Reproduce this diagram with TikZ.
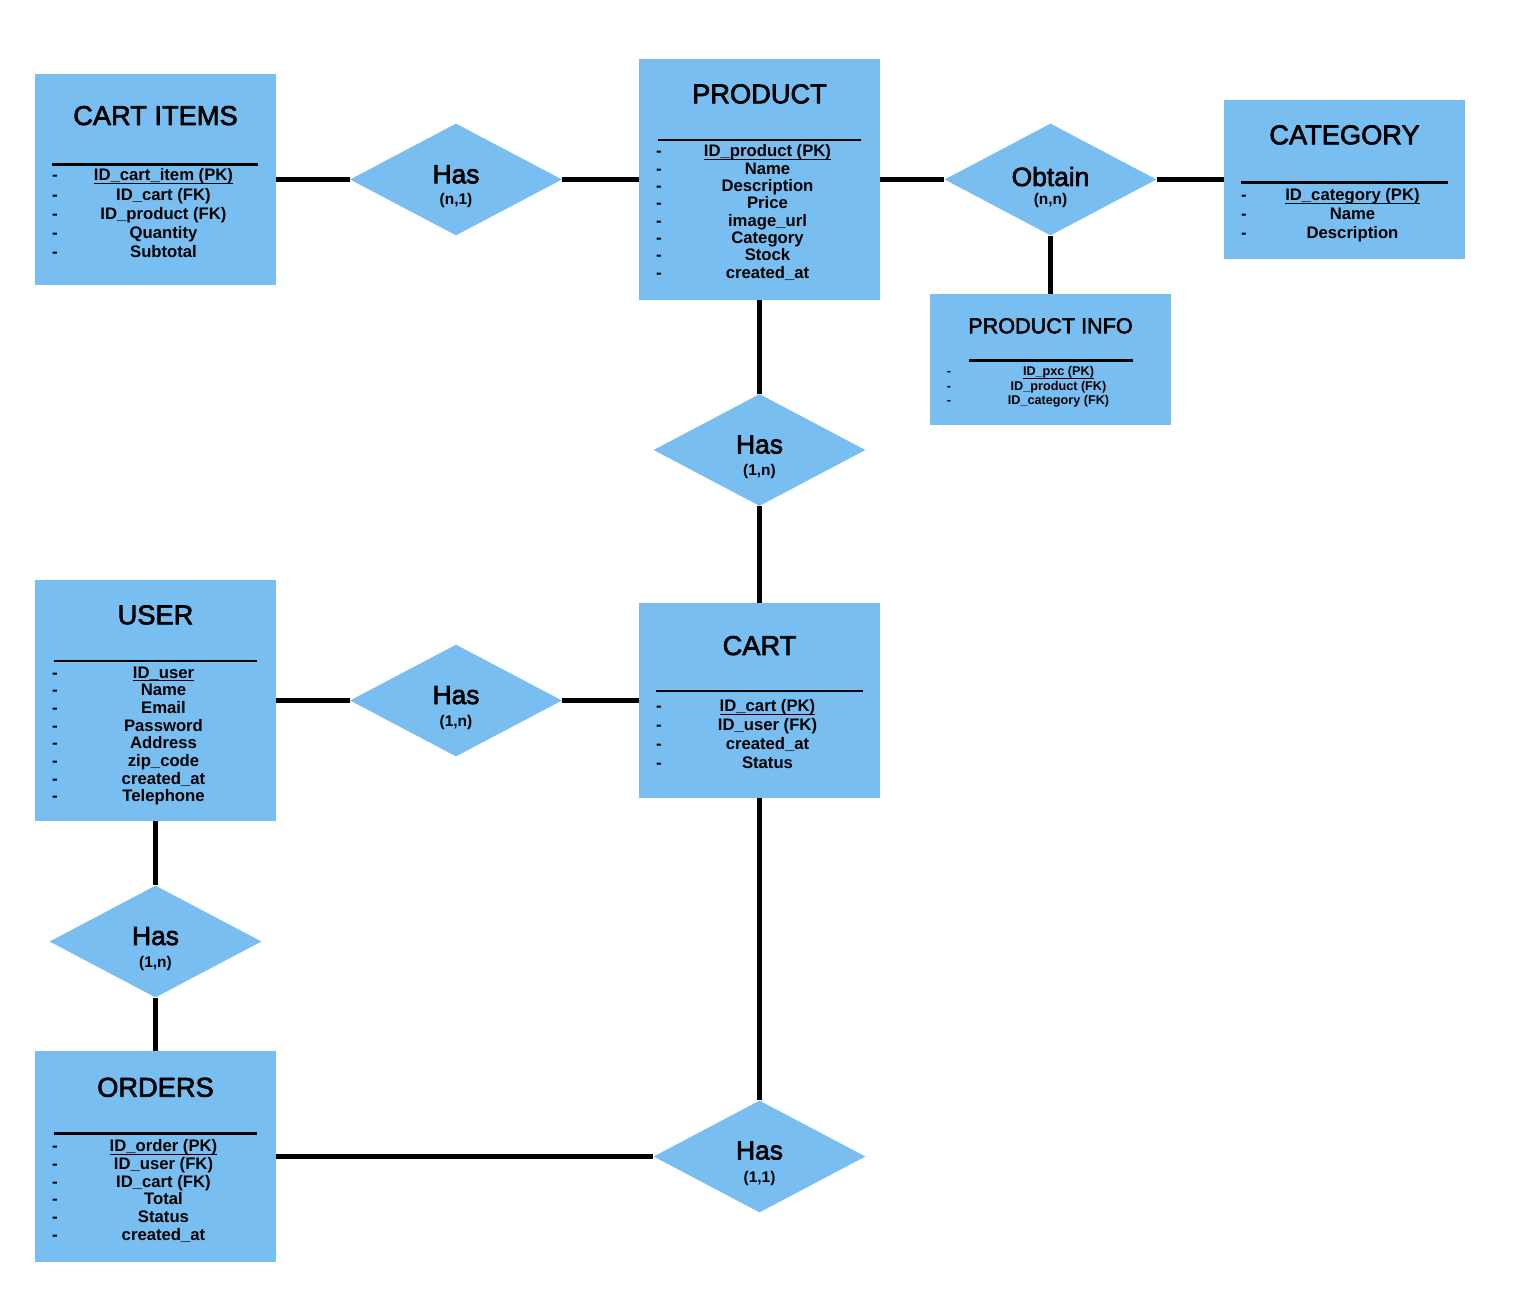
\documentclass[tikz,border=0pt]{standalone}
\usepackage{fontspec}
\setmainfont{Liberation Sans}
\newfontfamily\medfont{Liberation Sans}[FakeBold=2.5]
\usetikzlibrary{shapes.geometric}
\definecolor{erblue}{RGB}{121,190,240}
\newcommand{\pk}[1]{\underline{\smash{#1}}}

\begin{document}
\begin{tikzpicture}[x=0.02cm, y=-0.02cm, line join=round,
	entity/.style={rectangle, fill=erblue, inner sep=0, minimum width=4.82cm},
	rel/.style={diamond, fill=erblue, inner sep=0, minimum width=4.24cm, minimum height=2.24cm},
	enttitle/.style={anchor=base, inner sep=0, font=\fontsize{15.5}{18}\medfont},
	entattr/.style={anchor=base, inner sep=0, font=\fontsize{9.5}{11}\selectfont\bfseries},
	infoattr/.style={anchor=base, inner sep=0, font=\fontsize{7.2}{9}\selectfont\bfseries},
	relname/.style={anchor=base, inner sep=0, font=\fontsize{15}{18}\medfont},
	relcard/.style={anchor=base, inner sep=0, font=\fontsize{8.8}{10}\selectfont\bfseries},
	entsep/.style={line width=1.7pt},
	erlink/.style={line width=2.3pt}]
	\fill[white] (0,0) rectangle (1514,1314);
	\useasboundingbox (0,0) rectangle (1514,1314);
	% entities
	\node[entity, minimum height=4.22cm] (items) at (155.5,179.5) {};
	\node[entity, minimum height=4.82cm] (product) at (759.5,179.5) {};
	\node[entity, minimum height=3.18cm] (category) at (1344.5,179.5) {};
	\node[entity, minimum height=2.62cm] (info) at (1050.5,359.5) {};
	\node[entity, minimum height=4.82cm] (user) at (155.5,700.5) {};
	\node[entity, minimum height=3.90cm] (cart) at (759.5,700.5) {};
	\node[entity, minimum height=4.22cm] (orders) at (155.5,1156.5) {};
	\node[enttitle] (items-t) at (155.5,125) {CART ITEMS};
	\node[enttitle] (product-t) at (759.5,103.3) {PRODUCT};
	\node[enttitle] (category-t) at (1344.5,144.3) {CATEGORY};
	\node[enttitle, font=\fontsize{12.3}{14}\medfont] (info-t) at (1050.5,333.3) {PRODUCT INFO};
	\node[enttitle] (user-t) at (155.5,624.3) {USER};
	\node[enttitle] (cart-t) at (759.5,655) {CART};
	\node[enttitle] (orders-t) at (155.5,1096.7) {ORDERS};
	\draw[entsep] (51.7,164.3)--(258.3,164.3);
	\draw[entsep] (658.3,140)--(861,140);
	\draw[entsep] (1240.7,182.3)--(1447.7,182.3);
	\draw[entsep, line width=1.4pt] (969,360.7)--(1132.7,360.7);
	\draw[entsep] (54,661)--(256.7,661);
	\draw[entsep] (655.7,691)--(862.7,691);
	\draw[entsep] (54,1133.3)--(256.7,1133.3);
	% attributes
	\foreach \a [count=\i from 0] in {\pk{ID\_cart\_item (PK)},ID\_cart (FK),ID\_product (FK),Quantity,Subtotal}{
		\node[entattr] (items-d\i) at (55,181+19.2*\i) {-};
		\node[entattr] (items-a\i) at (163.5,181+19.2*\i) {\a};}
	\foreach \a [count=\i from 0] in {\pk{ID\_product (PK)},Name,Description,Price,image\_url,Category,Stock,created\_at}{
		\node[entattr] (product-d\i) at (659,157+17.3*\i) {-};
		\node[entattr] (product-a\i) at (767.5,157+17.3*\i) {\a};}
	\foreach \a [count=\i from 0] in {\pk{ID\_category (PK)},Name,Description}{
		\node[entattr] (category-d\i) at (1244,201+18.7*\i) {-};
		\node[entattr] (category-a\i) at (1352.5,201+18.7*\i) {\a};}
	\foreach \a [count=\i from 0] in {\pk{ID\_pxc (PK)},ID\_product (FK),ID\_category (FK)}{
		\node[infoattr] (info-d\i) at (949,375.5+14.6*\i) {-};
		\node[infoattr] (info-a\i) at (1058.5,375.5+14.6*\i) {\a};}
	\foreach \a [count=\i from 0] in {\pk{ID\_user},Name,Email,Password,Address,zip\_code,created\_at,Telephone}{
		\node[entattr] (user-d\i) at (55,678+17.67*\i) {-};
		\node[entattr] (user-a\i) at (163.5,678+17.67*\i) {\a};}
	\foreach \a [count=\i from 0] in {\pk{ID\_cart (PK)},ID\_user (FK),created\_at,Status}{
		\node[entattr] (cart-d\i) at (659,711.5+18.9*\i) {-};
		\node[entattr] (cart-a\i) at (767.5,711.5+18.9*\i) {\a};}
	\foreach \a [count=\i from 0] in {\pk{ID\_order (PK)},ID\_user (FK),ID\_cart (FK),Total,Status,created\_at}{
		\node[entattr] (orders-d\i) at (55,1151.7+17.67*\i) {-};
		\node[entattr] (orders-a\i) at (163.5,1151.7+17.67*\i) {\a};}
	% relationships
	\node[rel] (hasItems) at (456,179.5) {};
	\node[rel] (obtain) at (1050.5,179.5) {};
	\node[rel] (hasCart) at (759.5,450) {};
	\node[rel] (hasUser) at (456,700.5) {};
	\node[rel] (hasOrders) at (155.5,941.5) {};
	\node[rel] (hasOrdCart) at (759.5,1156.5) {};
	\node[relname] (hasItems-n) at (456,183.3) {Has};
	\node[relcard] (hasItems-c) at (456,205) {(n,1)};
	\node[relname] (obtain-n) at (1050.5,186) {Obtain};
	\node[relcard] (obtain-c) at (1050.5,205) {(n,n)};
	\node[relname] (hasCart-n) at (759.5,453.5) {Has};
	\node[relcard] (hasCart-c) at (759.5,475) {(1,n)};
	\node[relname] (hasUser-n) at (456,704) {Has};
	\node[relcard] (hasUser-c) at (456,726) {(1,n)};
	\node[relname] (hasOrders-n) at (155.5,945) {Has};
	\node[relcard] (hasOrders-c) at (155.5,967.3) {(1,n)};
	\node[relname] (hasOrdCart-n) at (759.5,1159.5) {Has};
	\node[relcard] (hasOrdCart-c) at (759.5,1182) {(1,1)};
	% links
	\draw[erlink] (items.east)--(hasItems.west);
	\draw[erlink] (hasItems.east)--(product.west);
	\draw[erlink] (product.east)--(obtain.west);
	\draw[erlink] (obtain.east)--(category.west);
	\draw[erlink] (obtain.south)--(info.north);
	\draw[erlink] (product.south)--(hasCart.north);
	\draw[erlink] (hasCart.south)--(cart.north);
	\draw[erlink] (user.east)--(hasUser.west);
	\draw[erlink] (hasUser.east)--(cart.west);
	\draw[erlink] (user.south)--(hasOrders.north);
	\draw[erlink] (hasOrders.south)--(orders.north);
	\draw[erlink] (orders.east)--(hasOrdCart.west);
	\draw[erlink] (cart.south)--(hasOrdCart.north);
\end{tikzpicture}
\end{document}
